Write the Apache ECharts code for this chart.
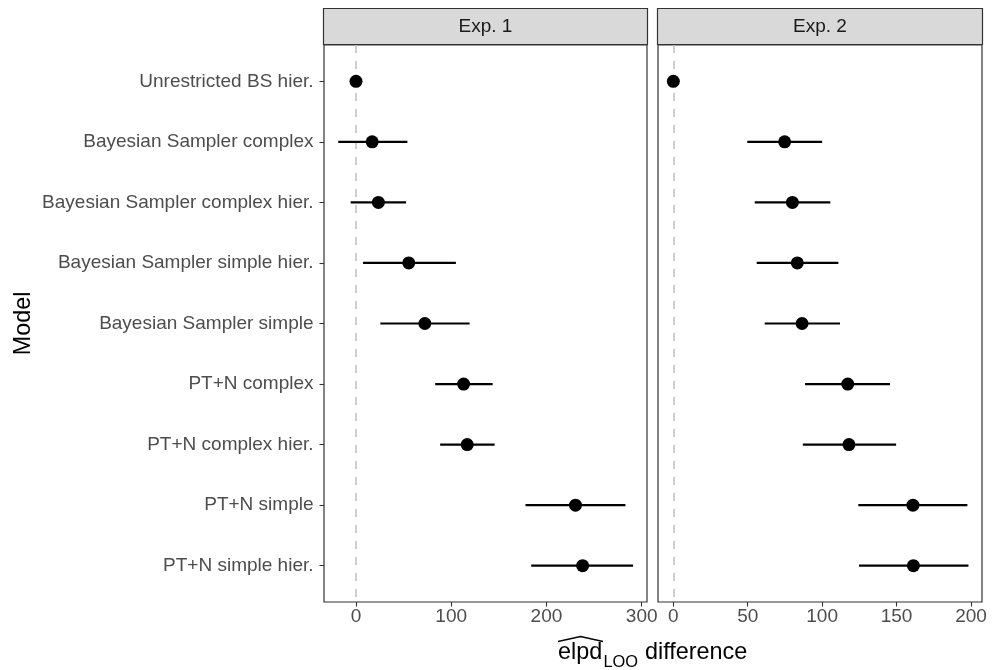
<!DOCTYPE html>
<html>
<head>
<meta charset="utf-8">
<title>elpd LOO difference</title>
<script src="https://cdn.jsdelivr.net/npm/echarts@6.0.0/dist/echarts.min.js"></script>
<style>
	html, body {margin:0; padding:0; background:#fff;}
	#main {width:998px; height:670px;}
</style>
</head>
<body>
<div id="main"></div>
<script>
var models = ['Unrestricted BS hier.', 'Bayesian Sampler complex', 'Bayesian Sampler complex hier.',
	'Bayesian Sampler simple hier.', 'Bayesian Sampler simple', 'PT+N complex', 'PT+N complex hier.',
	'PT+N simple', 'PT+N simple hier.'];
var panels = ['Exp. 1', 'Exp. 2'];

// point estimate and interval ends, one value per model (top to bottom)
var exp1Est = [0, 17, 23.5, 55.4, 72.3, 113, 116.8, 230.5, 238];
var exp1Lo  = [0, -18.6, -5.6, 7.4, 25.6, 83.2, 88.4, 178, 184];
var exp1Hi  = [0, 54, 52.6, 104.9, 119.3, 143.5, 145.6, 283, 291];

var exp2Est = [0, 74.8, 80, 83.3, 86.5, 117.2, 118, 161, 161.3];
var exp2Lo  = [0, 49.7, 54.7, 56, 61.4, 88.5, 87, 124.3, 124.8];
var exp2Hi  = [0, 100, 105.5, 110.9, 112, 145.6, 149.7, 197.6, 198.3];

var exp1Ticks = [0, 100, 200, 300];
var exp2Ticks = [0, 50, 100, 150, 200];

var FONT = '"Liberation Sans", Arial, Helvetica, sans-serif';
var TXT = 19;
var TITLE = 23.4;

function barData(lo, hi){
	var out = [];
	for(var i=0; i<lo.length; i++){
		out.push([lo[i], hi[i], i]);
	}
	return out;
}
function dotData(est){
	var out = [];
	for(var i=0; i<est.length; i++){
		out.push([est[i], i]);
	}
	return out;
}
function renderBar(params, api){
	var a = api.coord([api.value(0), api.value(2)]);
	var b = api.coord([api.value(1), api.value(2)]);
	return {
		type: 'line',
		shape: {x1: a[0], y1: a[1], x2: b[0], y2: b[1]},
		style: {stroke: '#000', lineWidth: 2.2}
	};
}
function xAxisFor(idx, min, max, ticks){
	return {
		type: 'value', gridIndex: idx, min: min, max: max, position: 'bottom',
		axisLine: {show: false, onZero: false},
		splitLine: {show: false},
		axisTick: {show: true, customValues: ticks, length: 4.5, lineStyle: {color: '#333', width: 1.1}},
		axisLabel: {customValues: ticks, color: '#4d4d4d', fontSize: TXT, fontFamily: FONT, margin: 5}
	};
}
function yAxisFor(idx, labels){
	var rows = [];
	for(var i=0; i<models.length; i++) rows.push(i);
	return {
		type: 'value', gridIndex: idx, inverse: true, min: -0.6, max: 8.6, position: 'left',
		axisLine: {show: false, onZero: false},
		splitLine: {show: false},
		axisTick: {show: labels, customValues: rows, length: 4.5, lineStyle: {color: '#333', width: 1.1}},
		axisLabel: {
			show: labels, customValues: rows, color: '#4d4d4d', fontSize: TXT, fontFamily: FONT, margin: 10.5,
			formatter: function(v){ return models[Math.round(v)]; }
		}
	};
}
function panelSeries(idx, est, lo, hi){
	return [
		{
			type: 'line', xAxisIndex: idx, yAxisIndex: idx, data: [], z: 1,
			markLine: {
				silent: true, z: 1, symbol: ['none', 'none'], label: {show: false},
				lineStyle: {color: '#c4c4c4', type: [8, 8], width: 1.6},
				data: [{xAxis: 0}]
			}
		},
		{
			type: 'custom', xAxisIndex: idx, yAxisIndex: idx, z: 6,
			renderItem: renderBar,
			encode: {x: [0, 1], y: 2},
			data: barData(lo, hi)
		},
		{
			type: 'scatter', xAxisIndex: idx, yAxisIndex: idx, z: 7,
			symbol: 'circle', symbolSize: 13,
			itemStyle: {color: '#000', opacity: 1},
			data: dotData(est)
		}
	];
}

var panelBox = [
	{left: 324, top: 45, width: 323, height: 557},
	{left: 658, top: 45, width: 324, height: 557}
];

var graphics = [];
for(var p=0; p<panels.length; p++){
	var b = panelBox[p];
	graphics.push({
		type: 'rect', z: 10,
		shape: {x: b.left - 0.5, y: 8.5, width: b.width + 1, height: 36},
		style: {fill: '#d9d9d9', stroke: '#333', lineWidth: 1.2}
	});
	graphics.push({
		type: 'text', z: 11,
		style: {
			text: panels[p], x: b.left + b.width / 2, y: 27,
			textAlign: 'center', textVerticalAlign: 'middle',
			font: TXT + 'px ' + FONT, fill: '#1a1a1a'
		}
	});
}
// y axis title
graphics.push({
	type: 'text', z: 11, x: 24, y: 323.5, rotation: Math.PI / 2,
	style: {text: 'Model', x: 0, y: 0, textAlign: 'center', textVerticalAlign: 'middle',
		font: TITLE + 'px ' + FONT, fill: '#000'}
});
// x axis title: elpd (hat) with subscript LOO
graphics.push({
	type: 'text', z: 11,
	style: {text: 'elpd', x: 558, y: 652.7, textAlign: 'left', textVerticalAlign: 'middle',
		font: TITLE + 'px ' + FONT, fill: '#000'}
});
graphics.push({
	type: 'text', z: 11,
	style: {text: 'LOO', x: 603.5, y: 662.9, textAlign: 'left', textVerticalAlign: 'middle',
		font: '16.4px ' + FONT, fill: '#000'}
});
graphics.push({
	type: 'text', z: 11,
	style: {text: 'difference', x: 645, y: 652.7, textAlign: 'left', textVerticalAlign: 'middle',
		font: TITLE + 'px ' + FONT, fill: '#000'}
});
graphics.push({
	type: 'polyline', z: 11,
	shape: {points: [[558, 641.5], [580.5, 636.5], [603, 641.5]]},
	style: {stroke: '#000', lineWidth: 1.3, fill: null}
});

var myChart = echarts.init(document.getElementById('main'));
var option = {
	animation: false,
	backgroundColor: '#fff',
	grid: [
		{left: panelBox[0].left, top: panelBox[0].top, width: panelBox[0].width, height: panelBox[0].height,
			show: true, borderColor: '#333', borderWidth: 1.2, backgroundColor: '#fff'},
		{left: panelBox[1].left, top: panelBox[1].top, width: panelBox[1].width, height: panelBox[1].height,
			show: true, borderColor: '#333', borderWidth: 1.2, backgroundColor: '#fff'}
	],
	xAxis: [
		xAxisFor(0, -33.6, 305.6, exp1Ticks),
		xAxisFor(1, -10.3, 207.4, exp2Ticks)
	],
	yAxis: [
		yAxisFor(0, true),
		yAxisFor(1, false)
	],
	series: panelSeries(0, exp1Est, exp1Lo, exp1Hi).concat(panelSeries(1, exp2Est, exp2Lo, exp2Hi)),
	graphic: graphics
};
myChart.setOption(option);
</script>
</body>
</html>
